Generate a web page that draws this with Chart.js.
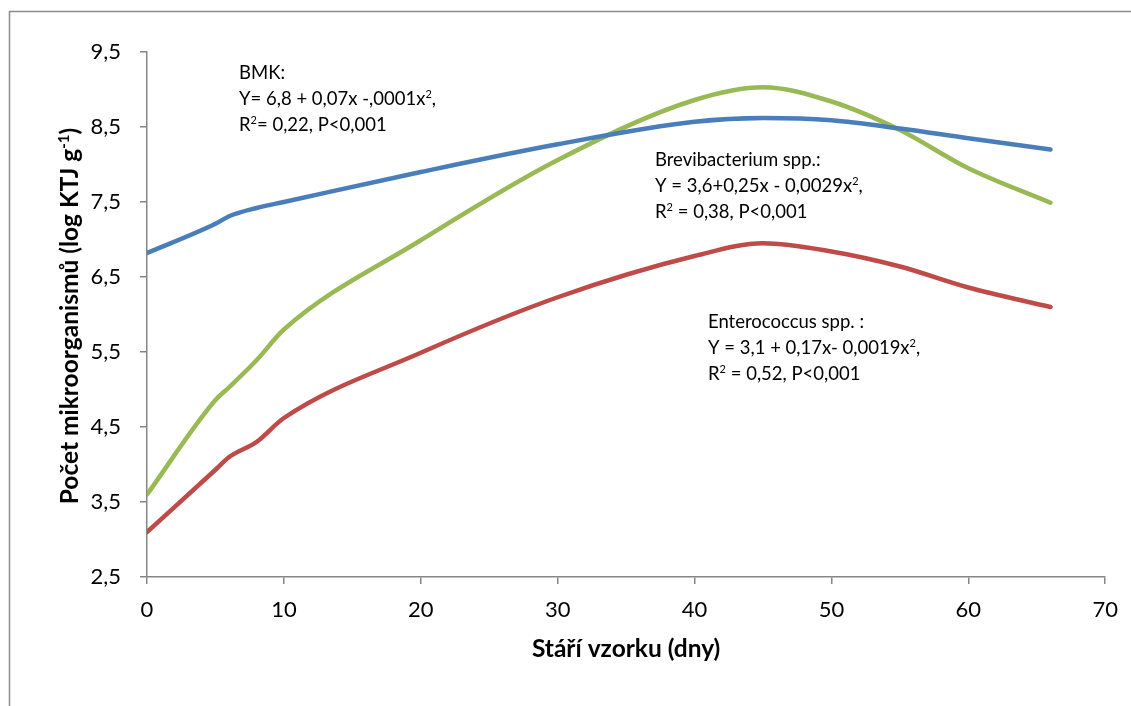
<!DOCTYPE html>
<html><head><meta charset="utf-8">
<script src="https://cdn.jsdelivr.net/npm/chart.js@4/dist/chart.umd.min.js"></script>
<style>html,body{margin:0;padding:0;background:#fff;}#wrap{width:1131px;height:706px;}</style>
</head><body><div id="wrap"><canvas id="c" width="1131" height="706"></canvas></div>
<script>
// ---- data ----
const days   = [0, 5, 6, 8, 10, 20, 30, 40, 45, 50, 55, 60, 66];
const bmk    = [6.82, 7.21, 7.31, 7.42, 7.50, 7.90, 8.27, 8.57, 8.62, 8.59, 8.48, 8.35, 8.20];
const brevi  = [3.60, 4.86, 5.03, 5.39, 5.80, 6.99, 8.06, 8.86, 9.03, 8.84, 8.46, 7.95, 7.49];
const entero = [3.10, 3.93, 4.10, 4.30, 4.62, 5.49, 6.23, 6.78, 6.95, 6.84, 6.64, 6.36, 6.10];
const xTickValues = [0, 10, 20, 30, 40, 50, 60, 70];
const yTickValues = [2.5, 3.5, 4.5, 5.5, 6.5, 7.5, 8.5, 9.5];
const seriesNames = ['BMK', 'Brevibacterium spp.', 'Enterococcus spp.'];
const xTitle = 'Stáří vzorku (dny)';
const yTitle = ['Počet mikroorganismů (log KTJ g', {sup: '-1'}, ')'];
const noteBMK   = [['BMK:'], ['Y= 6,8 + 0,07x -,0001x', {sup: '2'}, ','], ['R', {sup: '2'}, '= 0,22, P<0,001']];
const noteBrevi = [['Brevibacterium spp.:'], ['Y = 3,6+0,25x - 0,0029x', {sup: '2'}, ','], ['R', {sup: '2'}, ' = 0,38, P<0,001']];
const noteEnt   = [['Enterococcus spp. :'], ['Y = 3,1 + 0,17x- 0,0019x', {sup: '2'}, ','], ['R', {sup: '2'}, ' = 0,52, P<0,001']];

const FONT = 'Lato';
const AXIS = '#868686';

function toPts(ys) { return days.map((d, i) => ({x: d, y: ys[i]})); }

function drawRich(ctx, x, y, segs, size, weight) {
  let cx = x;
  for (const s of segs) {
    if (typeof s === 'string') {
      ctx.font = `${weight} ${size}px ${FONT}`;
      ctx.fillText(s, cx, y);
      cx += ctx.measureText(s).width;
    } else {
      const ss = Math.round(size * 0.62);
      ctx.font = `${weight} ${ss}px ${FONT}`;
      ctx.fillText(s.sup, cx, y - size * 0.36);
      cx += ctx.measureText(s.sup).width;
    }
  }
  return cx - x;
}
function richWidth(ctx, segs, size, weight) {
  let w = 0;
  for (const s of segs) {
    if (typeof s === 'string') { ctx.font = `${weight} ${size}px ${FONT}`; w += ctx.measureText(s).width; }
    else { ctx.font = `${weight} ${Math.round(size*0.62)}px ${FONT}`; w += ctx.measureText(s.sup).width; }
  }
  return w;
}

const decor = {
  id: 'decor',
  beforeDraw(chart) {
    const ctx = chart.ctx;
    ctx.save();
    ctx.fillStyle = '#fff';
    ctx.fillRect(0, 0, chart.width, chart.height);
    ctx.strokeStyle = '#8c8c8c';
    ctx.lineWidth = 1.5;
    ctx.strokeRect(9.5, 11.5, chart.width + 20, chart.height + 20);
    ctx.restore();
  },
  afterDraw(chart) {
    const ctx = chart.ctx;
    const a = chart.chartArea;
    ctx.save();
    ctx.fillStyle = '#000';
    ctx.textBaseline = 'alphabetic';
    ctx.textAlign = 'left';
    // annotations
    const notes = [[noteBMK, 239, 79], [noteBrevi, 655, 166], [noteEnt, 708, 328]];
    for (const [lines, x, y0] of notes) {
      lines.forEach((ln, i) => drawRich(ctx, x, y0 + i * 26, ln, 18.5, 'normal'));
    }
    // x title
    const xw = richWidth(ctx, [xTitle], 24.5, 'bold');
    drawRich(ctx, (a.left + a.right) / 2 - xw / 2, 657, [xTitle], 24.5, 'bold');
    // y title
    const yw = richWidth(ctx, yTitle, 24.5, 'bold');
    ctx.translate(78, 316);
    ctx.rotate(-Math.PI / 2);
    drawRich(ctx, -yw / 2, 0, yTitle, 24.5, 'bold');
    ctx.restore();
  }
};

const fmt = v => String(v).replace('.', ',');

new Chart(document.getElementById('c'), {
  type: 'line',
  data: {
    datasets: [
      {label: seriesNames[0], data: toPts(bmk),    borderColor: '#4A7EBB'},
      {label: seriesNames[1], data: toPts(brevi),  borderColor: '#98B954'},
      {label: seriesNames[2], data: toPts(entero), borderColor: '#BE4B48'}
    ].map(d => Object.assign(d, {borderWidth: 4.5, pointRadius: 0, cubicInterpolationMode: 'monotone', fill: false, borderCapStyle: 'round', borderJoinStyle: 'round'}))
  },
  options: {
    responsive: false,
    animation: false,
    layout: {padding: {left: 0, top: 52, right: 24, bottom: 0}},
    plugins: {legend: {display: false}, tooltip: {enabled: false}},
    scales: {
      x: {
        type: 'linear', min: 0, max: 70,
        afterBuildTicks: s => { s.ticks = xTickValues.map(v => ({value: v})); },
        afterFit: s => { s.height = 129; },
        grid: {display: true, drawOnChartArea: false, drawTicks: true, tickLength: 7, color: AXIS, lineWidth: 1.5},
        border: {display: true, color: AXIS, width: 1.5},
        ticks: {color: '#000', font: {family: FONT, size: 22}, padding: 13, maxRotation: 0, callback: v => fmt(v)}
      },
      y: {
        type: 'linear', min: 2.5, max: 9.5,
        afterBuildTicks: s => { s.ticks = yTickValues.map(v => ({value: v})); },
        afterFit: s => { s.width = 147; },
        grid: {display: true, drawOnChartArea: false, drawTicks: true, tickLength: 7, color: AXIS, lineWidth: 1.5},
        border: {display: true, color: AXIS, width: 1.5},
        ticks: {color: '#000', font: {family: FONT, size: 22}, padding: 19, callback: v => fmt(v)}
      }
    }
  },
  plugins: [decor]
});
</script></body></html>
